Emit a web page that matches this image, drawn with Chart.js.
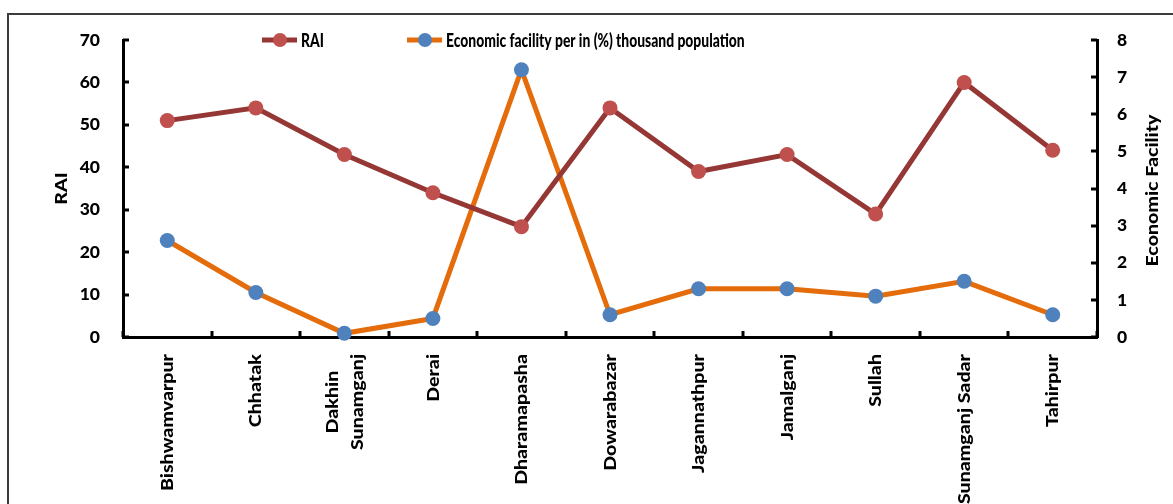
<!DOCTYPE html>
<html>
<head>
<meta charset="utf-8">
<title>RAI and Economic Facility by Upazila</title>
<script src="https://cdn.jsdelivr.net/npm/chart.js@4/dist/chart.umd.min.js"></script>
<style>
  html, body { margin: 0; padding: 0; background: #fff; overflow: hidden; }
  #wrap { position: relative; width: 1173px; height: 504px; }
  #frame {
    position: absolute; left: 7px; top: 13px; width: 1200px; height: 600px;
    border: 2px solid #3c3c3c; box-sizing: border-box; pointer-events: none;
  }
  canvas { position: absolute; left: 0; top: 0; }
</style>
</head>
<body>
<div id="wrap">
  <canvas id="chart" width="1173" height="504"></canvas>
  <div id="frame"></div>
</div>
<script>
// Upazilas of Sunamganj district
const categories = [
  "Bishwamvarpur", "Chhatak", ["Dakhin", "Sunamganj"], "Derai", "Dharamapasha",
  "Dowarabazar", "Jagannathpur", "Jamalganj", "Sullah", "Sunamganj Sadar", "Tahirpur"
];
// RAI (left axis)
const raiValues = [51, 54, 43, 34, 26, 54, 39, 43, 29, 60, 44];
// Economic facility per thousand population, % (right axis)
const econValues = [2.6, 1.2, 0.1, 0.5, 7.2, 0.6, 1.3, 1.3, 1.1, 1.5, 0.6];

const seriesNames = ["RAI", "Economic facility per in (%) thousand population"];
const leftTitle = "RAI";
const rightTitle = "Economic Facility";
const leftTicks = [0, 10, 20, 30, 40, 50, 60, 70];
const rightTicks = [0, 1, 2, 3, 4, 5, 6, 7, 8];

const FONT_FAMILY = "Lato";
const FONT_WEIGHT = "900";
const FONT_SIZE = 17.5;
const LEGEND_SIZE = 18.5;
const fontStr = `${FONT_WEIGHT} ${FONT_SIZE}px ${FONT_FAMILY}`;
const legendFontStr = `${FONT_WEIGHT} ${LEGEND_SIZE}px ${FONT_FAMILY}`;
const H_SQUEEZE = 0.75;   // horizontal legend text width factor
const V_STRETCH = 1.12;   // rotated text length factor

function drawScaledText(ctx, text, x, y, angle, sx, align) {
  ctx.save();
  ctx.translate(x, y);
  if (angle) ctx.rotate(angle);
  ctx.scale(sx, 1);
  ctx.textAlign = align;
  ctx.textBaseline = "middle";
  ctx.fillText(text, 0, 0);
  ctx.restore();
}

const decorations = {
  id: "decorations",
  afterDraw(chart) {
    const { ctx, chartArea, scales } = chart;
    const xs = scales.x, yl = scales.y, yr = scales.y1;
    ctx.save();
    ctx.font = fontStr;
    ctx.fillStyle = "#000";
    ctx.strokeStyle = "#000";
    ctx.lineWidth = 3;
    ctx.lineCap = "butt";

    // inward tick marks on the value axes
    leftTicks.forEach(v => {
      const py = Math.round(yl.getPixelForValue(v));
      ctx.beginPath(); ctx.moveTo(chartArea.left, py); ctx.lineTo(chartArea.left + 6, py); ctx.stroke();
    });
    rightTicks.forEach(v => {
      const py = Math.round(yr.getPixelForValue(v));
      ctx.beginPath(); ctx.moveTo(chartArea.right, py); ctx.lineTo(chartArea.right - 6, py); ctx.stroke();
    });
    // inward tick marks between categories
    for (let i = 0; i <= categories.length; i++) {
      const px = Math.round(xs.getPixelForValue(i - 0.5));
      ctx.beginPath(); ctx.moveTo(px, chartArea.bottom); ctx.lineTo(px, chartArea.bottom - 6); ctx.stroke();
    }

    // category labels, rotated, reading upward
    const labelTop = chartArea.bottom + 17;
    const lineGap = 25;
    categories.forEach((lab, i) => {
      const lines = Array.isArray(lab) ? lab : [lab];
      const px = xs.getPixelForValue(i);
      const widths = lines.map(t => ctx.measureText(t).width * V_STRETCH);
      const w = Math.max(...widths);
      lines.forEach((t, j) => {
        const off = (j - (lines.length - 1) / 2) * lineGap;
        ctx.save();
        ctx.translate(px + off, labelTop + w / 2);
        ctx.rotate(-Math.PI / 2);
        ctx.scale(V_STRETCH, 1);
        ctx.textAlign = "center";
        ctx.textBaseline = "middle";
        ctx.fillText(t, 0, 0);
        ctx.restore();
      });
    });

    // axis titles
    const midY = (chartArea.top + chartArea.bottom) / 2;
    drawScaledText(ctx, leftTitle, chartArea.left - 62, midY, -Math.PI / 2, V_STRETCH, "center");
    drawScaledText(ctx, rightTitle, chartArea.right + 55, midY + 2, -Math.PI / 2, V_STRETCH, "center");

    // legend: line sample with marker, then name
    ctx.font = legendFontStr;
    const legendY = chartArea.top;
    const legendX = [262, 407];
    chart.data.datasets.forEach((ds, k) => {
      const x0 = legendX[k];
      ctx.strokeStyle = ds.borderColor;
      ctx.lineWidth = 5;
      ctx.beginPath(); ctx.moveTo(x0, legendY); ctx.lineTo(x0 + 35, legendY); ctx.stroke();
      ctx.fillStyle = ds.pointBackgroundColor;
      ctx.beginPath(); ctx.arc(x0 + 18, legendY, 7, 0, Math.PI * 2); ctx.fill();
      ctx.fillStyle = "#000";
      drawScaledText(ctx, ds.label, x0 + 39, legendY + 1, 0, H_SQUEEZE, "left");
    });
    ctx.restore();
  }
};

new Chart(document.getElementById("chart"), {
  type: "line",
  data: {
    labels: categories,
    datasets: [
      {
        label: seriesNames[0],
        data: raiValues,
        yAxisID: "y",
        borderColor: "#953735",
        backgroundColor: "#C0504D",
        pointBackgroundColor: "#C0504D",
        pointBorderWidth: 0,
        pointRadius: 7.5,
        borderWidth: 5,
        tension: 0,
        clip: false
      },
      {
        label: seriesNames[1],
        data: econValues,
        yAxisID: "y1",
        borderColor: "#E46C0A",
        backgroundColor: "#4F81BD",
        pointBackgroundColor: "#4F81BD",
        pointBorderWidth: 0,
        pointRadius: 7.5,
        borderWidth: 5,
        tension: 0,
        clip: false
      }
    ]
  },
  options: {
    responsive: false,
    animation: false,
    devicePixelRatio: 1,
    layout: { padding: { top: 40, left: 0, right: 0, bottom: 0 } },
    plugins: { legend: { display: false }, tooltip: { enabled: false }, title: { display: false } },
    scales: {
      x: {
        type: "category",
        offset: true,
        grid: { display: false, drawTicks: false },
        border: { display: true, color: "#000", width: 3 },
        ticks: { display: false },
        afterFit(scale) { scale.height = 167; }
      },
      y: {
        position: "left",
        min: 0, max: 70,
        afterBuildTicks(scale) { scale.ticks = leftTicks.map(v => ({ value: v })); },
        grid: { display: false, drawTicks: false },
        border: { display: true, color: "#000", width: 3 },
        ticks: { color: "#000", font: { family: FONT_FAMILY, size: FONT_SIZE, weight: FONT_WEIGHT }, padding: 23 },
        afterFit(scale) { scale.width = 123; }
      },
      y1: {
        position: "right",
        min: 0, max: 8,
        afterBuildTicks(scale) { scale.ticks = rightTicks.map(v => ({ value: v })); },
        grid: { display: false, drawTicks: false },
        border: { display: true, color: "#000", width: 3 },
        ticks: { color: "#000", font: { family: FONT_FAMILY, size: FONT_SIZE, weight: FONT_WEIGHT }, padding: 20 },
        afterFit(scale) { scale.width = 76; }
      }
    }
  },
  plugins: [decorations]
});
</script>
</body>
</html>
